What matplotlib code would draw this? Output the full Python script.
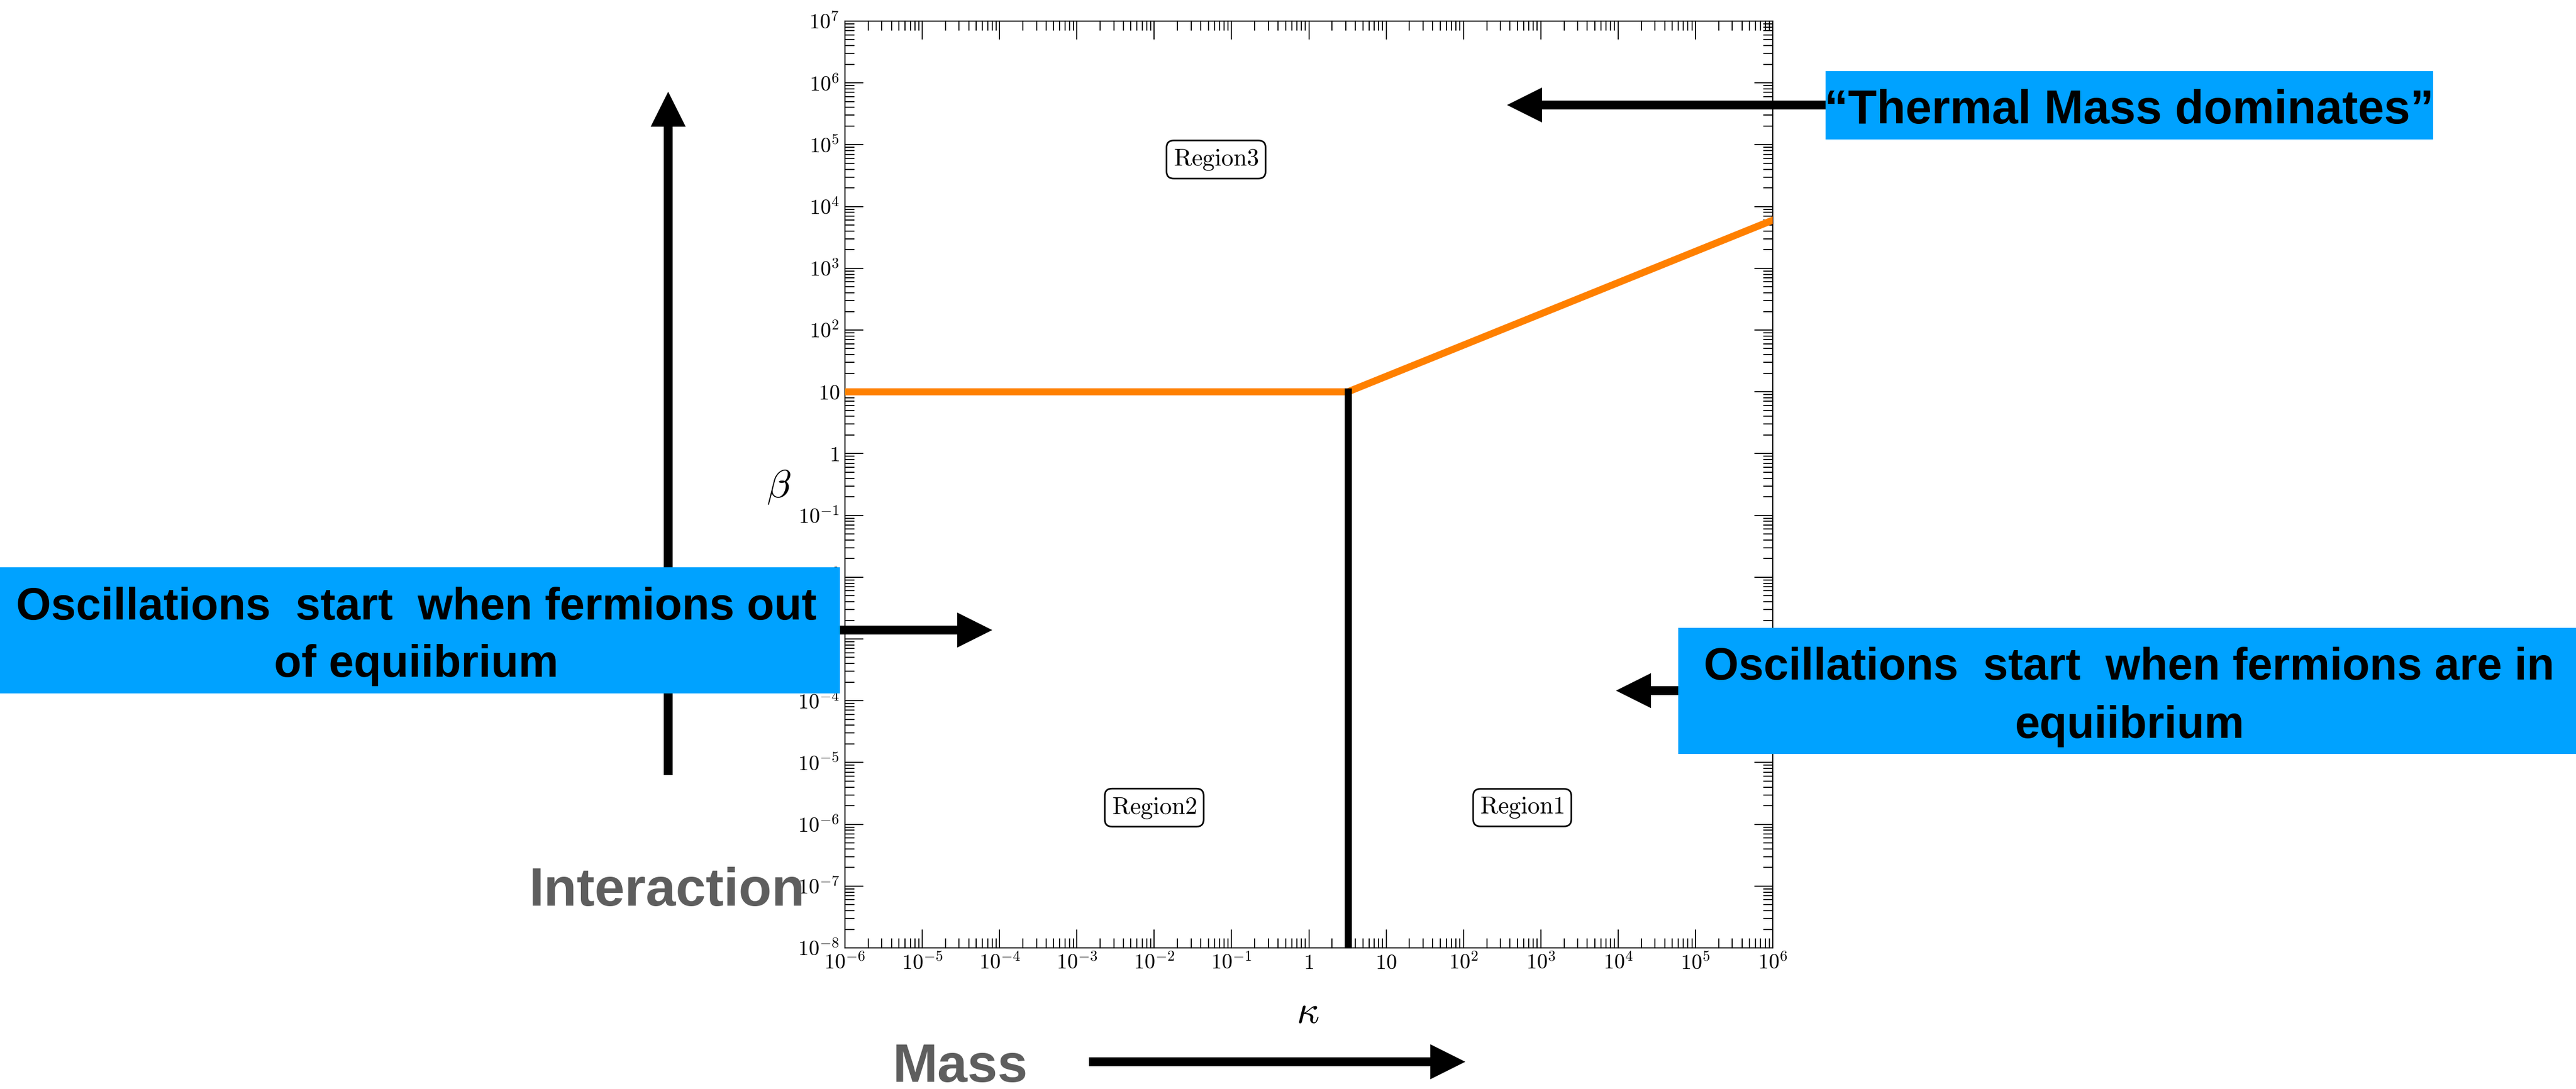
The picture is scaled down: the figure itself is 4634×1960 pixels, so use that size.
import numpy as np
import matplotlib
matplotlib.use('Agg')
import matplotlib.pyplot as plt
from matplotlib.patches import Rectangle
from matplotlib.ticker import LogLocator, FuncFormatter, NullFormatter

#=============================== data ===============================
# phase boundary between the regions (beta vs kappa)
kappa_boundary = [1e-6, 3.2, 1e6]
beta_boundary = [10, 10, 6e3]
# vertical separator between region 1 and region 2
kappa_split = [3.2, 3.2]
beta_split = [1e-8, 10]

region_names = ['Region1', 'Region2', 'Region3']
region_kappa = [10**2.76, 1e-2, 10**-1.2]
region_beta = [10**-5.73, 10**-5.73, 10**4.76]

xlim = (1e-6, 1e6)
ylim = (1e-8, 1e7)

left_box_lines = ['Oscillations  start  when fermions out', 'of equiibrium']
right_box_lines = ['Oscillations  start  when fermions are in', 'equiibrium']
top_box_text = '\u201cThermal Mass dominates\u201d'

#=============================== figure =============================
W, H = 4634, 1960
DPI = 300
plt.rcParams['mathtext.fontset'] = 'cm'
fig = plt.figure(figsize=(W / DPI, H / DPI), dpi=DPI)

# main axes, placed by pixel box (left, top, right, bottom)
L, T, R, B = 1520, 38, 3189, 1706
ax = fig.add_axes([L / W, 1 - B / H, (R - L) / W, (B - T) / H])
ax.set_xscale('log')
ax.set_yscale('log')
ax.set_xlim(*xlim)
ax.set_ylim(*ylim)

ax.plot(kappa_boundary, beta_boundary, color='#ff8000', lw=3.05, zorder=3)
ax.plot(kappa_split, beta_split, color='black', lw=3.05, zorder=3)

def fmt(v, pos):
    e = int(round(np.log10(v)))
    if e == 0:
        return '$1$'
    if e == 1:
        return '$10$'
    return '$10^{%d}$' % e

for axis in (ax.xaxis, ax.yaxis):
    axis.set_major_locator(LogLocator(base=10, numticks=30))
    axis.set_minor_locator(LogLocator(base=10, subs=np.arange(2, 10), numticks=30))
    axis.set_major_formatter(FuncFormatter(fmt))
    axis.set_minor_formatter(NullFormatter())

ax.tick_params(which='both', direction='in', top=True, right=True, width=0.45, labelsize=9.2)
ax.tick_params(which='major', length=7.9, pad=2.3)
ax.tick_params(which='minor', length=4.1)
for s in ax.spines.values():
    s.set_linewidth(0.5)

ax.set_xlabel(r'$\kappa$', fontsize=17)
ax.set_ylabel(r'$\beta$', fontsize=17, rotation=0)
ax.xaxis.set_label_coords((2352 - L) / (R - L), (B - 1822) / (B - T), transform=ax.transAxes)
ax.yaxis.set_label_coords((1401 - L) / (R - L), (B - 875) / (B - T), transform=ax.transAxes)
ax.xaxis.label.set_va('center')
ax.yaxis.label.set_va('center')

for name, k, b in zip(region_names, region_kappa, region_beta):
    ax.text(k, b, r'$\mathrm{%s}$' % name, fontsize=10.5, ha='center', va='center', zorder=4,
            bbox=dict(boxstyle='round,pad=0.28,rounding_size=0.3', fc='white', ec='black', lw=0.7))

#=============================== slide overlay ======================
ov = fig.add_axes([0, 0, 1, 1], zorder=5)
ov.set_xlim(0, W)
ov.set_ylim(H, 0)
ov.patch.set_alpha(0)
ov.axis('off')

blue = '#00a2ff'
grey = '#5e5e5e'
arrow_kw = dict(width=16, head_width=63, head_length=63, length_includes_head=True,
                color='black', lw=0)

# big arrows (axis meaning)
ov.arrow(1202, 1395, 0, 165 - 1395, **arrow_kw)
ov.arrow(1959, 1911, 2636 - 1959, 0, **arrow_kw)
ov.text(952, 1630, 'Interaction', color=grey, fontsize=23.3, fontweight='bold',
        family='Liberation Sans', ha='left', va='baseline')
ov.text(1606, 1947, 'Mass', color=grey, fontsize=23.3, fontweight='bold',
        family='Liberation Sans', ha='left', va='baseline')

# pointer arrows
ov.arrow(3284, 189, 2711 - 3284, 0, **arrow_kw)
ov.arrow(1511, 1134, 1785 - 1511, 0, **arrow_kw)
ov.arrow(3019, 1243, 2907 - 3019, 0, **arrow_kw)

# blue boxes
ov.add_patch(Rectangle((3284, 128), 4377 - 3284, 251 - 128, fc=blue, ec='none'))
ov.add_patch(Rectangle((0, 1021), 1511, 1248 - 1021, fc=blue, ec='none'))
ov.add_patch(Rectangle((3019, 1130), W - 3019, 1357 - 1130, fc=blue, ec='none'))

txt_kw = dict(color='black', fontweight='bold', family='Liberation Sans',
              ha='center', va='baseline')
ov.text(3830, 222, top_box_text, fontsize=20.3, **txt_kw)
ov.text(749, 1115, left_box_lines[0], fontsize=19.4, **txt_kw)
ov.text(749, 1218, left_box_lines[1], fontsize=19.4, **txt_kw)
ov.text(3830, 1223, right_box_lines[0], fontsize=19.4, **txt_kw)
ov.text(3831, 1328, right_box_lines[1], fontsize=19.4, **txt_kw)

fig.savefig('out.png', dpi=DPI)
